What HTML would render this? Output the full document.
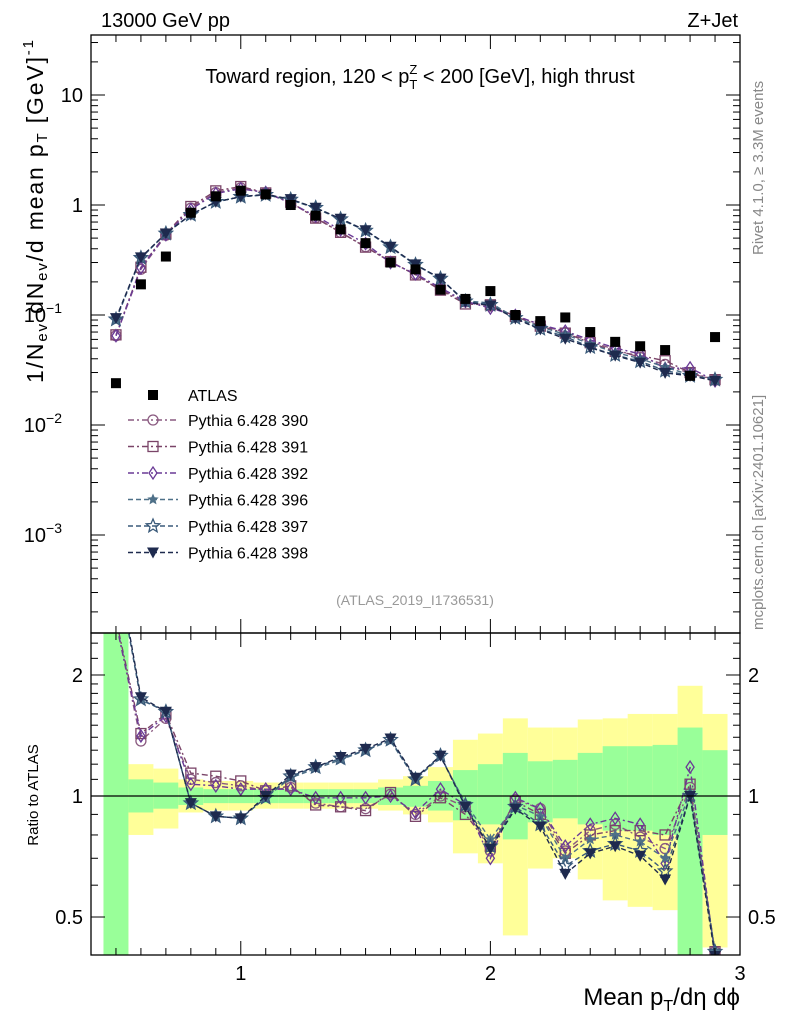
<!DOCTYPE html>
<html><head><meta charset="utf-8"><style>
html,body{margin:0;background:#fff;overflow:hidden;width:786px;height:1024px}
svg{font-family:"Liberation Sans",sans-serif;display:block}
</style></head><body>
<svg id="c" width="786" height="1024" viewBox="0 0 786 1024">
<g id="bands"></g>
<g id="marks"></g>
<g id="axes"></g>
<text x="101" y="27" font-size="20">13000 GeV pp</text>
<text x="738" y="27" font-size="20" text-anchor="end">Z+Jet</text>
<text x="420" y="83" font-size="20" text-anchor="middle">Toward region, 120 &lt; p<tspan font-size="13" dy="-9">Z</tspan><tspan font-size="13" dx="-8" dy="15">T</tspan><tspan dy="-6"> &lt; 200 [GeV], high thrust</tspan></text>
<text x="415" y="605" font-size="14" fill="#999" text-anchor="middle">(ATLAS_2019_I1736531)</text>
<text transform="translate(763,255) rotate(-90)" font-size="15" fill="#888">Rivet 4.1.0, ≥ 3.3M events</text>
<text transform="translate(763,630) rotate(-90)" font-size="15" fill="#888">mcplots.cern.ch [arXiv:2401.10621]</text>
<text transform="translate(43,383) rotate(-90)" font-size="23" textLength="343">1/N<tspan font-size="15" dy="4">ev</tspan><tspan dy="-4"> dN</tspan><tspan font-size="15" dy="4">ev</tspan><tspan dy="-4">/d mean p</tspan><tspan font-size="15" dy="4">T</tspan><tspan dy="-4"> [GeV]</tspan><tspan font-size="15" dy="-10">-1</tspan></text>
<text transform="translate(38,795) rotate(-90)" font-size="15" text-anchor="middle">Ratio to ATLAS</text>
<text x="740" y="1005" font-size="24" text-anchor="end">Mean p<tspan font-size="16" dy="6">T</tspan><tspan dy="-6">/dη dϕ</tspan></text>
<g id="legend"></g>
</svg>
<script>
const xs=[0.5,0.6,0.7,0.8,0.9,1.0,1.1,1.2,1.3,1.4,1.5,1.6,1.7,1.8,1.9,2.0,2.1,2.2,2.3,2.4,2.5,2.6,2.7,2.8,2.9];
const atlas=[0.024,0.19,0.34,0.85,1.2,1.35,1.25,1.0,0.8,0.6,0.45,0.3,0.26,0.17,0.14,0.165,0.1,0.088,0.095,0.07,0.057,0.052,0.048,0.028,0.063];
const r390=[2.7,1.37,1.56,1.1,1.08,1.06,1.03,1.05,0.96,0.94,0.93,1.01,0.9,1.0,0.94,0.73,0.98,0.93,0.73,0.82,0.85,0.79,0.74,1.05,0.41];
const r391=[2.75,1.43,1.6,1.14,1.12,1.09,1.03,1.06,0.95,0.94,0.92,1.02,0.89,0.99,0.9,0.75,0.97,0.9,0.72,0.8,0.82,0.82,0.8,1.07,0.41];
const r392=[2.7,1.41,1.58,1.07,1.06,1.04,1.04,1.04,0.99,0.99,0.99,1.0,0.91,1.04,0.95,0.7,0.99,0.93,0.75,0.85,0.88,0.85,0.68,1.18,0.4];
const r396=[3.8,1.73,1.63,0.96,0.89,0.88,0.99,1.11,1.17,1.23,1.3,1.37,1.1,1.25,0.96,0.78,0.95,0.89,0.7,0.78,0.8,0.77,0.7,1.02,0.41];
const r397=[3.8,1.74,1.62,0.96,0.89,0.88,0.99,1.12,1.18,1.24,1.3,1.38,1.1,1.26,0.95,0.75,0.94,0.85,0.67,0.73,0.76,0.73,0.65,1.0,0.41];
const r398=[3.9,1.76,1.62,0.96,0.89,0.88,1.0,1.13,1.18,1.25,1.31,1.39,1.11,1.26,0.94,0.74,0.93,0.84,0.64,0.72,0.75,0.71,0.62,1.0,0.4];
const yelLo=[0.1,0.8,0.83,0.91,0.92,0.92,0.93,0.93,0.93,0.93,0.93,0.92,0.9,0.86,0.72,0.68,0.45,0.66,0.7,0.62,0.55,0.53,0.52,0.34,0.42];
const yelHi=[3,1.2,1.17,1.1,1.09,1.09,1.08,1.08,1.08,1.08,1.08,1.1,1.12,1.18,1.38,1.43,1.56,1.48,1.48,1.55,1.56,1.6,1.6,1.88,1.6];
const grnLo=[0.1,0.91,0.93,0.95,0.96,0.96,0.96,0.96,0.96,0.96,0.96,0.95,0.94,0.92,0.87,0.85,0.78,0.86,0.88,0.85,0.82,0.82,0.8,0.4,0.8];
const grnHi=[3,1.1,1.08,1.05,1.04,1.04,1.04,1.04,1.04,1.04,1.04,1.05,1.06,1.09,1.16,1.2,1.28,1.22,1.23,1.28,1.33,1.33,1.34,1.48,1.3];
const names=["Pythia 6.428 390","Pythia 6.428 391","Pythia 6.428 392","Pythia 6.428 396","Pythia 6.428 397","Pythia 6.428 398"];
const xTicks=[1,2,3];
const yTicks=[10,1,0.1,0.01,0.001];
const yTickLabels=["10","1","10","10","10"];
const yTickExp=["","","−1","−2","−3"];
const rTicks=[0.5,1,2];

const NS="http://www.w3.org/2000/svg";
const L=91,R=740,T=35,B=633,RB=955;
const X=v=>L+(v-0.4)/(2.6)*(R-L);
const Y=v=>205-110*Math.log10(v);
const RY=v=>796-402*Math.log10(v);
function el(p,t,a){const e=document.createElementNS(NS,t);for(const k in a)e.setAttribute(k,a[k]);p.appendChild(e);return e;}
const bands=document.getElementById('bands'),marks=document.getElementById('marks'),axes=document.getElementById('axes'),leg=document.getElementById('legend');
const clip=el(document.getElementById('c'),'clipPath',{id:'rc'});el(clip,'rect',{x:L,y:B,width:R-L,height:RB-B});
const clipM=el(document.getElementById('c'),'clipPath',{id:'mc'});el(clipM,'rect',{x:L,y:T,width:R-L,height:B-T});
bands.setAttribute('clip-path','url(#rc)');
xs.forEach((x,i)=>{
 const y=el(bands,'rect',{x:X(x-0.05),y:RY(yelHi[i]),width:X(x+0.05)-X(x-0.05),height:RY(yelLo[i])-RY(yelHi[i]),fill:'#ffff99'});
 
 
 const g=el(bands,'rect',{x:X(x-0.05),y:RY(grnHi[i]),width:X(x+0.05)-X(x-0.05),height:RY(grnLo[i])-RY(grnHi[i]),fill:'#99ff99'});
 
 
});
const ratios=[r390,r391,r392,r396,r397,r398];
const cols=['#8a5a80','#7a4468','#6a3a96','#4e7088','#3a5a7a','#1e2a4e'];
const dash=['6,3,2,3','6,3,2,3','6,3,2,3','5,3','5,3','5,3'];
function star(cx,cy,r){let p=[];for(let k=0;k<10;k++){const a=-Math.PI/2+k*Math.PI/5,rr=k%2?r*0.45:r;p.push((cx+rr*Math.cos(a)).toFixed(1)+','+(cy+rr*Math.sin(a)).toFixed(1));}return p.join(' ');}
function marker(g,s,cx,cy){const c=cols[s];
 if(s==0)return el(g,'circle',{cx,cy,r:5,fill:'none',stroke:c,'stroke-width':1.3});
 if(s==1)return el(g,'rect',{x:cx-5,y:cy-5,width:10,height:10,fill:'none',stroke:c,'stroke-width':1.3});
 if(s==2)return el(g,'polygon',{points:`${cx},${cy-6} ${cx+4},${cy} ${cx},${cy+6} ${cx-4},${cy}`,fill:'none',stroke:c,'stroke-width':1.3});
 if(s==3)return el(g,'polygon',{points:star(cx,cy,6),fill:c});
 if(s==4)return el(g,'polygon',{points:star(cx,cy,7),fill:'none',stroke:c,'stroke-width':1.3});
 return el(g,'polygon',{points:`${cx-6},${cy-5} ${cx+6},${cy-5} ${cx},${cy+6}`,fill:c});}
ratios.forEach((r,s)=>{
 const gm=el(marks,'g',{'clip-path':'url(#mc)'});
 
 
 const pts=xs.map((x,i)=>X(x).toFixed(1)+','+Y(atlas[i]*r[i]).toFixed(1)).join(' ');
 el(gm,'polyline',{points:pts,fill:'none',stroke:cols[s],'stroke-width':1.4,'stroke-dasharray':dash[s]});
 xs.forEach((x,i)=>{const m=marker(gm,s,X(x),Y(atlas[i]*r[i]));});
 const gr=el(marks,'g',{'clip-path':'url(#rc)'});
 
 
 el(gr,'polyline',{points:xs.map((x,i)=>X(x).toFixed(1)+','+RY(r[i]).toFixed(1)).join(' '),fill:'none',stroke:cols[s],'stroke-width':1.4,'stroke-dasharray':dash[s]});
 xs.forEach((x,i)=>{const m=marker(gr,s,X(x),RY(r[i]));});
});
xs.forEach((x,i)=>{const m=el(marks,'rect',{x:X(x)-5,y:Y(atlas[i])-5,width:10,height:10,fill:'#000'});
 
 });
el(axes,'line',{x1:L,x2:R,y1:RY(1),y2:RY(1),stroke:'#000','stroke-width':1.3});
el(axes,'rect',{x:L,y:T,width:R-L,height:B-T,fill:'none',stroke:'#000','stroke-width':1.3});
el(axes,'rect',{x:L,y:B,width:R-L,height:RB-B,fill:'none',stroke:'#000','stroke-width':1.3});
for(let v=0.4;v<=3.0001;v+=0.1){const t=Math.abs(v-Math.round(v))<1e-6,h=t?14:7;
 [[T,1],[B,-1],[B,1],[RB,-1]].forEach(([y,d])=>el(axes,'line',{x1:X(v),x2:X(v),y1:y,y2:y+d*h,stroke:'#000'}));}
xTicks.forEach(v=>{const t=el(axes,'text',{x:X(v),y:980,'font-size':20,'text-anchor':'middle'});t.textContent=v;});
for(let d=-4;d<=1;d++)for(let m=1;m<10;m++){const v=m*Math.pow(10,d),y=Y(v);if(y<T||y>B)continue;const h=m==1?14:7;
 el(axes,'line',{x1:L,x2:L+h,y1:y,y2:y,stroke:'#000'});el(axes,'line',{x1:R,x2:R-h,y1:y,y2:y,stroke:'#000'});}
yTicks.forEach((v,i)=>{const t=el(axes,'text',{x:83,y:Y(v)+7,'font-size':20,'text-anchor':'end'});t.textContent=yTickLabels[i];
 if(yTickExp[i]){t.setAttribute('x',62);const s=el(t,'tspan',{'font-size':14,dy:-9});s.textContent=yTickExp[i];}});
const rminor=[0.4,0.5,0.6,0.7,0.8,0.9,1,1.1,1.2,1.3,1.4,1.5,1.6,1.7,1.8,1.9,2,2.2,2.4];
rminor.forEach(v=>{const y=RY(v);if(y<B||y>RB)return;const h=(v==0.5||v==1||v==2)?14:7;
 el(axes,'line',{x1:L,x2:L+h,y1:y,y2:y,stroke:'#000'});el(axes,'line',{x1:R,x2:R-h,y1:y,y2:y,stroke:'#000'});});
rTicks.forEach(v=>{[[83,'end'],[748,'start']].forEach(([x,a])=>{const t=el(axes,'text',{x,y:RY(v)+7,'font-size':20,'text-anchor':a});t.textContent=v;});});
// legend
const lr=el(leg,'rect',{x:148,y:390,width:10,height:10,fill:'#000'});


const lt=el(leg,'text',{x:188,y:401,'font-size':16});lt.textContent='ATLAS';
names.forEach((n,s)=>{const y=420+s*26.5;
 const g=el(leg,'g',{});
 
 
 el(g,'line',{x1:128,x2:178,y1:y,y2:y,stroke:cols[s],'stroke-width':1.4,'stroke-dasharray':dash[s]});
 marker(g,s,153,y);
 const t=el(g,'text',{x:188,y:y+6,'font-size':16});t.textContent=n;});
</script>
</body></html>
